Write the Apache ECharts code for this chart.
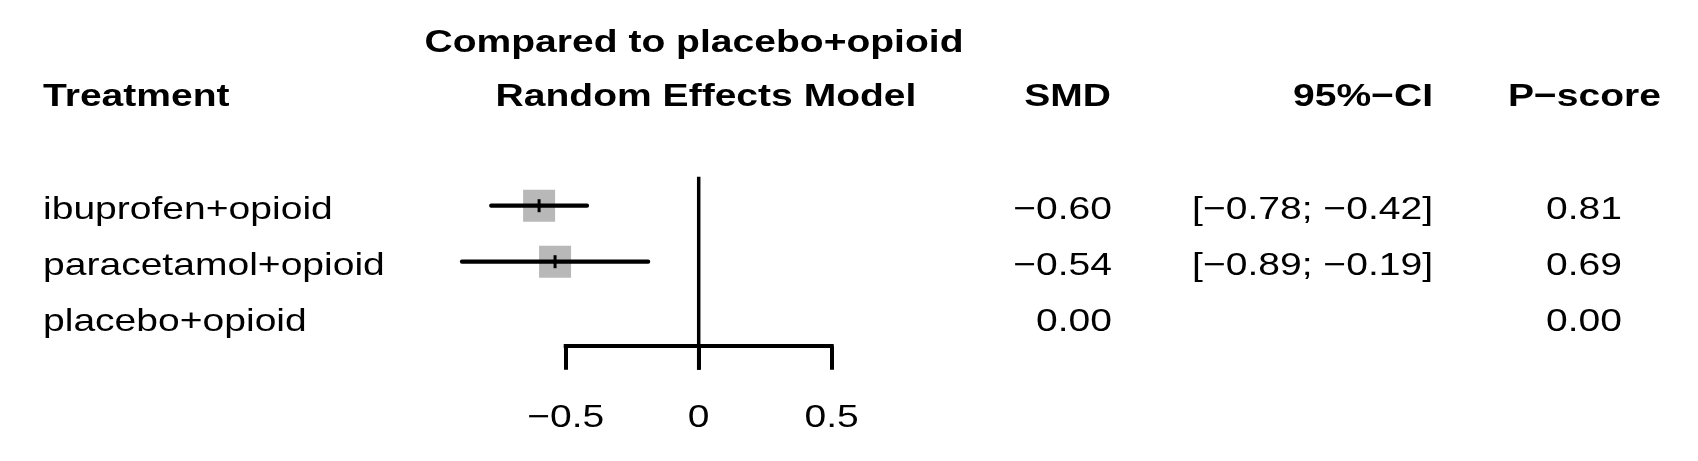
<!DOCTYPE html>
<html>
<head>
<meta charset="utf-8">
<title>Forest plot</title>
<script src="https://cdn.jsdelivr.net/npm/echarts@6/dist/echarts.min.js"></script>
<style type="text/css">
	html, body { margin: 0; padding: 0; background: #fff; }
	#forest { width: 1698px; height: 461px; }
</style>
</head>
<body>
<div id="forest"></div>
<script type="text/javascript">
// data
var treatments = ['ibuprofen+opioid', 'paracetamol+opioid', 'placebo+opioid'];
var smd = [-0.60, -0.54, 0.00];
var ciLower = [-0.78, -0.89, null];
var ciUpper = [-0.42, -0.19, null];
var pScore = [0.81, 0.69, 0.00];
var xTicks = [-0.5, 0, 0.5];

var FONT = "'Liberation Sans', Arial, sans-serif";
var SX = 1.22;   // the original is stretched sideways
var FS = 32;

function num(v, d) {
	var s = Math.abs(v).toFixed(d);
	return (v < 0 ? '\u2212' : '') + s;
}
function tick(v) {
	if (v === 0) return '0';
	return (v < 0 ? '\u2212' : '') + String(Math.abs(v));
}
function txt(str, x, y, align, bold) {
	return {
		type: 'text', x: x, y: y, scaleX: SX,
		style: {
			text: str, fill: '#000', align: align, verticalAlign: 'middle',
			font: (bold ? 'bold ' : '') + FS + 'px ' + FONT
		}
	};
}

var ciData = [];
var rowData = [];
treatments.forEach(function (t, i) {
	if (ciLower[i] !== null) ciData.push([ciLower[i], ciUpper[i], smd[i], i]);
	rowData.push([smd[i], i]);
});

var myChart = echarts.init(document.getElementById('forest'));

var option = {
	animation: false,
	backgroundColor: '#fff',
	grid: { left: 565.7, top: 177.7, width: 266, height: 168, containLabel: false, outerBoundsMode: 'none' },
	xAxis: {
		type: 'value', min: -0.5, max: 0.5, interval: 0.5,
		axisLine: { show: true, lineStyle: { color: '#000', width: 4, cap: 'square' } },
		axisTick: { show: true, length: 24, lineStyle: { color: '#000', width: 4 } },
		axisLabel: { show: false },
		splitLine: { show: false }
	},
	yAxis: {
		type: 'category', data: treatments, inverse: true, show: false
	},
	graphic: [
		txt('Compared to placebo+opioid', 694, 43.5, 'center', true),
		txt('Treatment', 43, 97.5, 'left', true),
		txt('Random Effects Model', 706, 97.5, 'center', true),
		txt('SMD', 1111, 97.5, 'right', true),
		txt('95%\u2212CI', 1433, 97.5, 'right', true),
		txt('P\u2212score', 1661, 97.5, 'right', true)
	],
	series: [
		{
			// vertical line at no effect
			type: 'custom', clip: false, silent: true, z: 2,
			data: [[0, 0]],
			renderItem: function (params, api) {
				var cs = params.coordSys;
				var x = api.coord([api.value(0), 0])[0];
				return {
					type: 'line',
					shape: { x1: x, y1: cs.y - 1, x2: x, y2: cs.y + cs.height + 24 },
					style: { stroke: '#000', lineWidth: 3.5 }
				};
			}
		},
		{
			// squares, CI lines and point marks
			type: 'custom', clip: false, silent: true, z: 3,
			data: ciData,
			encode: { x: [0, 1, 2], y: 3 },
			renderItem: function (params, api) {
				var row = api.value(3);
				var lo = api.coord([api.value(0), row]);
				var hi = api.coord([api.value(1), row]);
				var mid = api.coord([api.value(2), row]);
				var s = 32;
				return {
					type: 'group',
					children: [
						{ type: 'rect', shape: { x: mid[0] - s / 2, y: mid[1] - s / 2, width: s, height: s },
						  style: { fill: '#b8b8b8' } },
						{ type: 'line', shape: { x1: lo[0], y1: lo[1], x2: hi[0], y2: hi[1] },
						  style: { stroke: '#000', lineWidth: 4.2, lineCap: 'round' } },
						{ type: 'line', shape: { x1: mid[0], y1: mid[1] - 6.5, x2: mid[0], y2: mid[1] + 6.5 },
						  style: { stroke: '#000', lineWidth: 3 } }
					]
				};
			}
		},
		{
			// table text, one row per treatment
			type: 'custom', clip: false, silent: true, z: 4,
			data: rowData,
			encode: { x: 0, y: 1 },
			renderItem: function (params, api) {
				var i = params.dataIndex;
				var y = api.coord([0, api.value(1)])[1] + 4;
				var kids = [
					txt(treatments[i], 43, y, 'left'),
					txt(num(smd[i], 2), 1112, y, 'right'),
					txt(num(pScore[i], 2), 1622, y, 'right')
				];
				if (ciLower[i] !== null) {
					kids.push(txt('[' + num(ciLower[i], 2) + '; ' + num(ciUpper[i], 2) + ']', 1433, y, 'right'));
				}
				return { type: 'group', children: kids };
			}
		},
		{
			// tick labels under the axis
			type: 'custom', clip: false, silent: true, z: 4,
			data: xTicks.map(function (v) { return [v, 0]; }),
			encode: { x: 0, y: 1 },
			renderItem: function (params, api) {
				var cs = params.coordSys;
				var x = api.coord([api.value(0), 0])[0];
				return txt(tick(xTicks[params.dataIndex]), x, cs.y + cs.height + 72, 'center');
			}
		}
	]
};

myChart.setOption(option);
</script>
</body>
</html>
